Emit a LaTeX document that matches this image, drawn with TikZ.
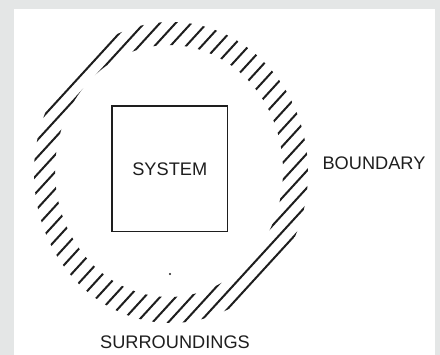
\documentclass[tikz,border=0pt]{standalone}
\usepackage{fontspec}
\setmainfont{Liberation Sans}
\definecolor{framegray}{HTML}{E4E6E6}
\definecolor{inkcol}{HTML}{1E1E1E}
\tikzset{
  hatchline/.style={draw=inkcol, line width=2pt, line cap=round},
  sysbox/.style={draw=inkcol, line width=1.7pt, minimum width=115.5pt, minimum height=125.5pt, inner sep=0pt},
  labeltext/.style={text=inkcol, inner sep=0pt, font=\fontsize{18.2}{21}\selectfont}
}
\begin{document}
\begin{tikzpicture}[x=1pt,y=-1pt]
  \useasboundingbox (0,0) rectangle (440,355);
  \fill[framegray] (0,0) rectangle (440,355);
  \fill[white] (14,9) rectangle (435,355);
  % hatched boundary ring
  \begin{scope}[even odd rule]
    \clip (171,172.5) ellipse [x radius=137pt, y radius=150.5pt]
          (169,171) ellipse [x radius=114pt, y radius=126pt];
    \foreach \k in {0,...,23}{
      \pgfmathsetmacro\s{129.6-11.56*\k}
      \draw[hatchline] ({169-0.738*\s+135},{171-0.675*\s-147.6})
                    -- ({169-0.738*\s-135},{171-0.675*\s+147.6});
    }
  \end{scope}
  % system box
  \node[sysbox, labeltext] (sys) at (169.75,168.75) {SYSTEM};
  \node[labeltext] (bnd) at (374,163.5) {BOUNDARY};
  \node[labeltext] (sur) at (175,342) {SURROUNDINGS};
  \fill[inkcol] (170,274) circle (1.2pt);
\end{tikzpicture}
\end{document}
